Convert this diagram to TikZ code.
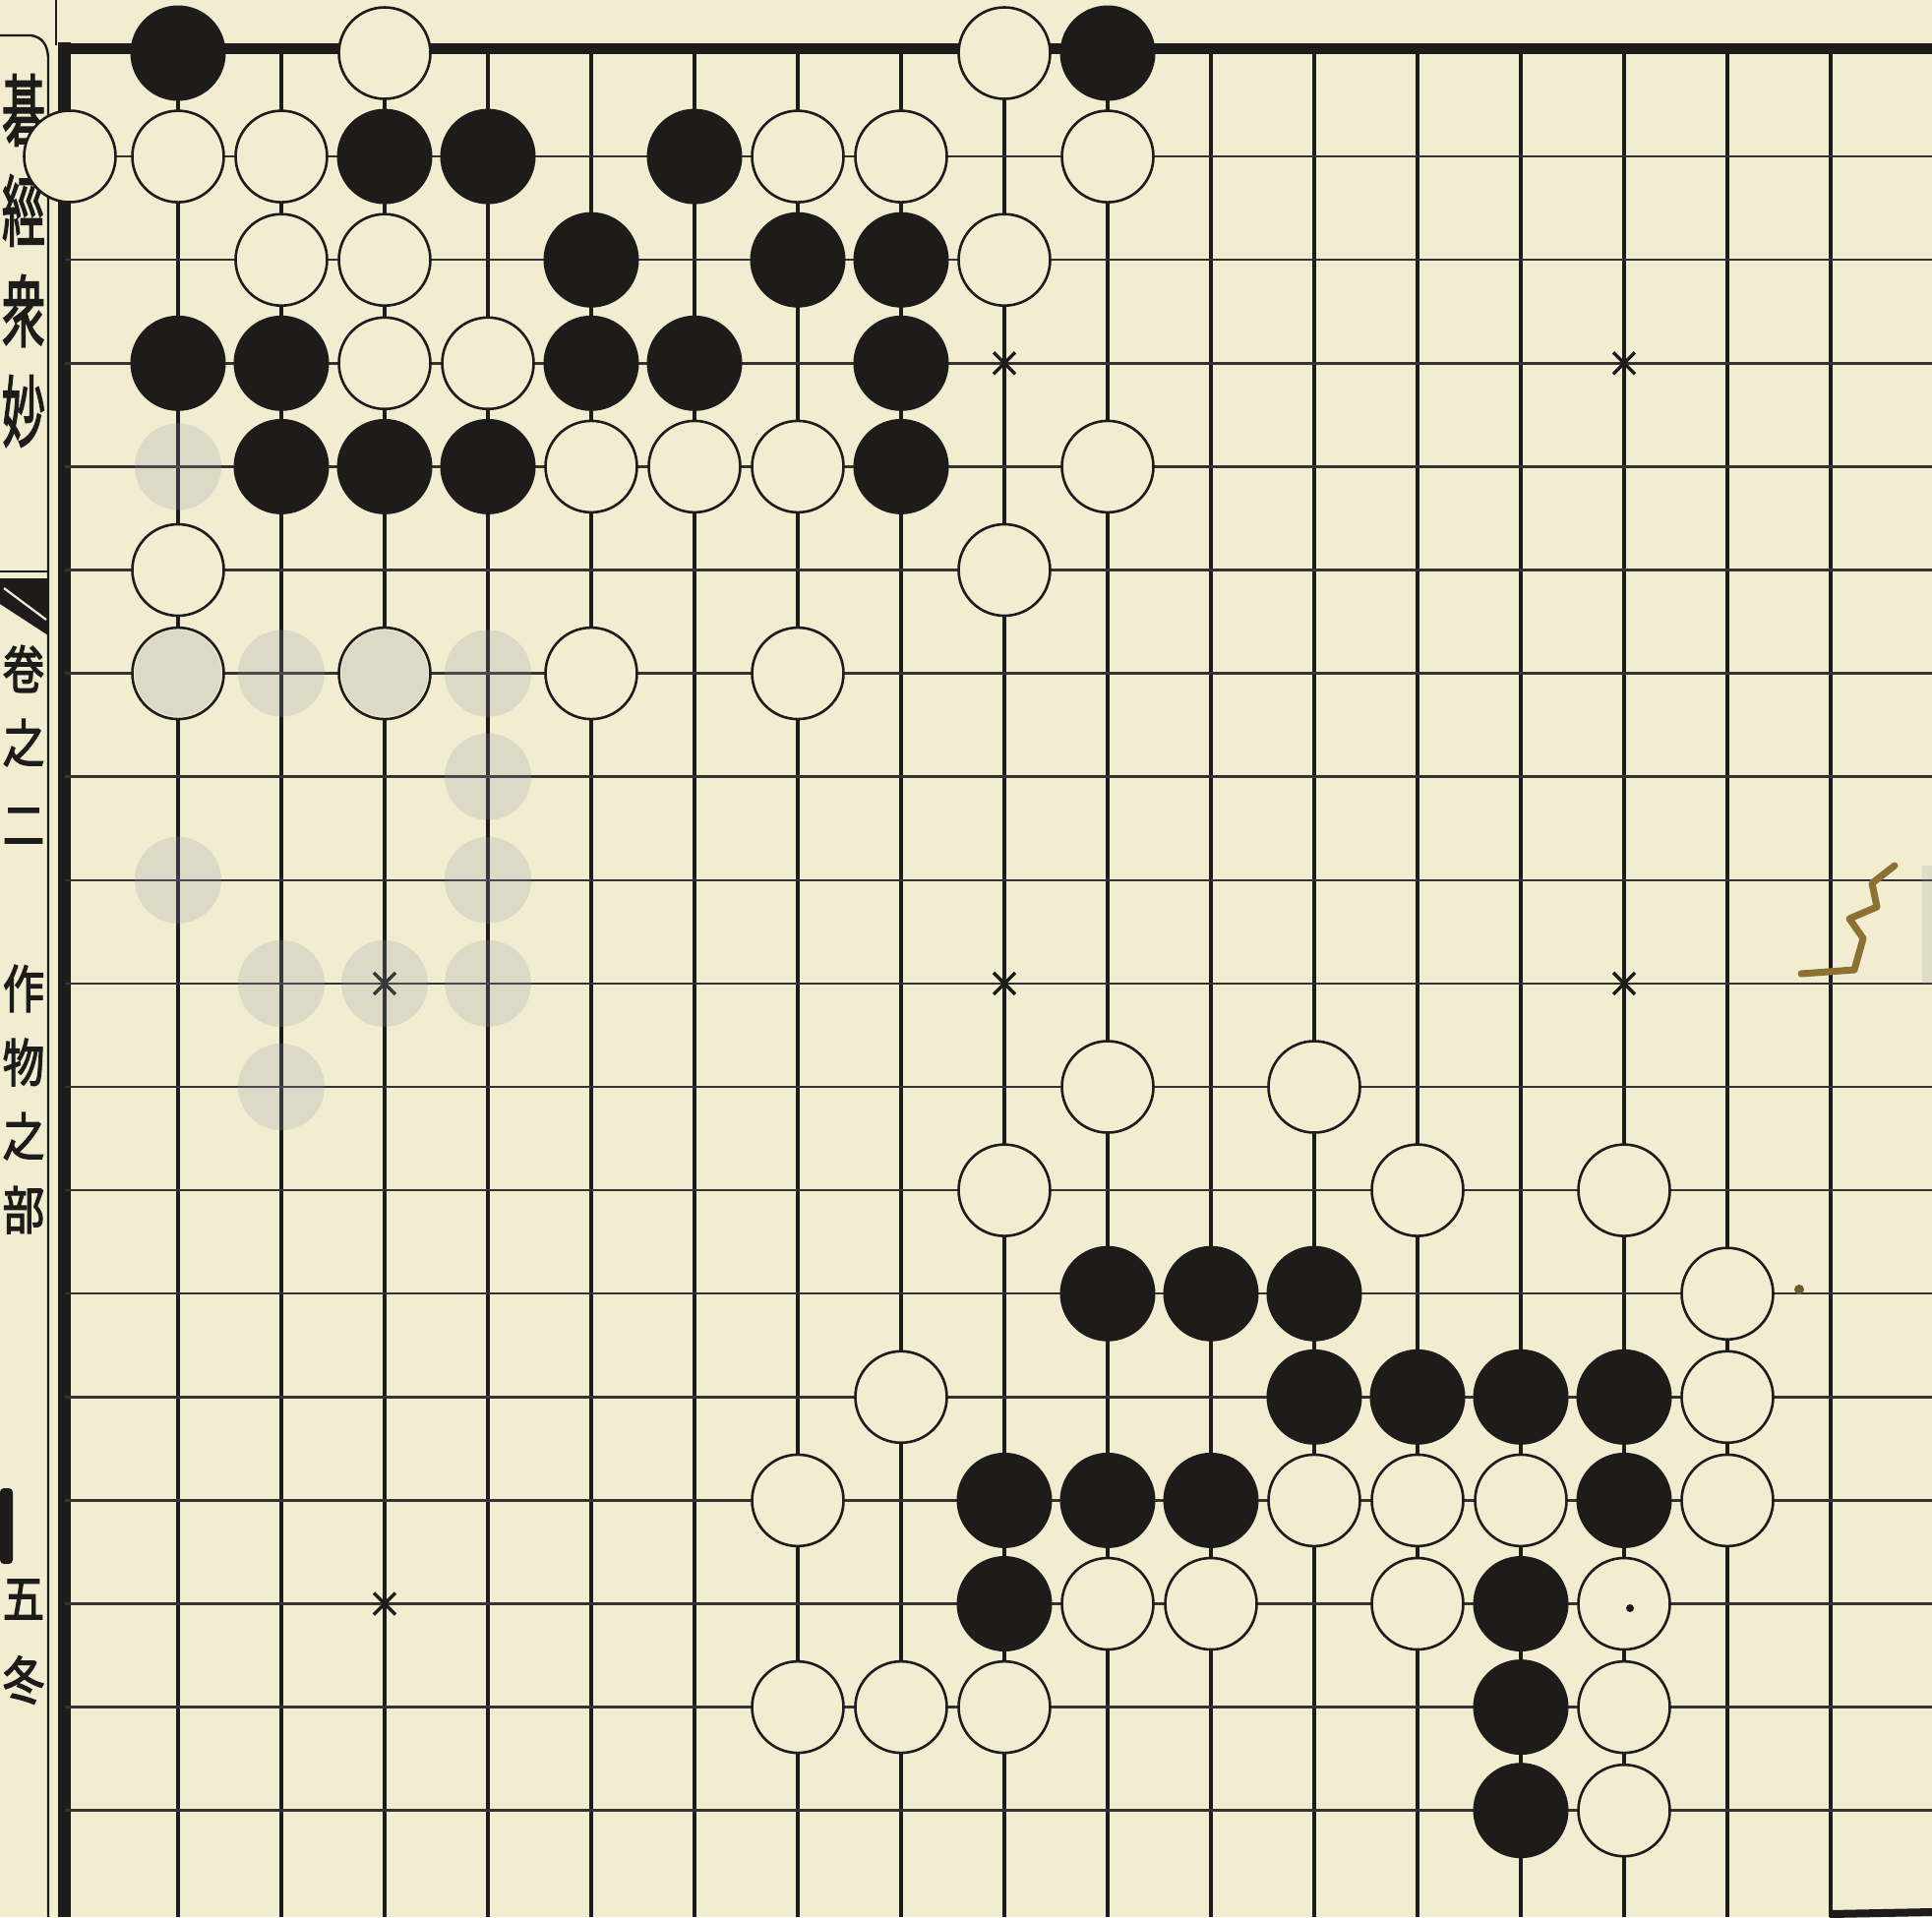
\documentclass[tikz,border=0pt]{standalone}
\usepackage{fontspec}
\newfontfamily\cjk{Noto Sans CJK JP}[FakeBold=2.5]
\definecolor{paper}{HTML}{F2EDD0}
\definecolor{ink}{HTML}{1D1C1A}
\definecolor{ghost}{HTML}{8E98A4}
\definecolor{stain}{HTML}{8C7034}
\begin{document}
\begin{tikzpicture}[x=1pt,y=-1pt,
  vline/.style={draw=ink,line width=3.6pt},
  hline/.style={draw=ink!90,line width=2.5pt},
  thinrule/.style={draw=ink,line width=2.4pt},
  bstone/.style={circle,fill=ink,minimum size=97pt,inner sep=0pt},
  wstone/.style={circle,draw=ink,fill=paper,line width=2.6pt,minimum size=93pt,inner sep=0pt},
  ghoststone/.style={circle,fill=ghost,opacity=0.22,minimum size=88pt,inner sep=0pt},
  starmark/.style={draw=ink,line width=3.4pt},
  titlechar/.style={font=\cjk\fontsize{44}{44}\selectfont,text=ink,inner sep=0pt,anchor=center,yscale=1.8},
  sidechar/.style={font=\cjk\fontsize{50}{50}\selectfont,text=ink,inner sep=0pt,anchor=center,xscale=0.85,yscale=1.05},
]
\useasboundingbox (0,0) rectangle (1964,1949);
\clip (0,0) rectangle (1964,1949);
\fill[paper] (0,0) rectangle (1964,1949);

% --- margin text column ---
\node[titlechar] (t1) at (24,112) {碁};
\node[titlechar] (t2) at (24,214) {經};
\node[titlechar] (t3) at (24,316) {衆};
\node[titlechar] (t4) at (24,418) {妙};
\node[sidechar] (s1) at (24,680) {卷};
\node[sidechar] (s2) at (24,755) {之};
\node[sidechar] (s3) at (24,840) {二};
\node[sidechar] (s4) at (24,1005) {作};
\node[sidechar] (s5) at (24,1080) {物};
\node[sidechar] (s6) at (24,1155) {之};
\node[sidechar] (s7) at (24,1230) {部};
\node[sidechar] (s8) at (24,1626) {五};
\node[sidechar] (s9) at (24,1708) {冬};
\fill[ink,rounded corners=4pt] (0,1513) rectangle (13,1590);

% box border and fish tail
\draw[thinrule] (0,36) -- (32,36) .. controls (42,38) and (48,44) .. (49,58) -- (49,1949);
\draw[thinrule] (0,581) -- (49,581);
\fill[ink] (0,588) -- (49,588) -- (49,646) -- (0,614) -- cycle;
\draw[paper,line width=2.2pt] (4,598) -- (47,630);

% --- board frame ---
\draw[thinrule] (57,0) -- (57,46);
\draw[draw=ink,line width=13pt] (65,43) -- (65,1949);
\draw[draw=ink,line width=11pt] (59,49) -- (1964,49);
\draw[draw=ink,line width=8pt] (1860,1946) -- (1964,1944);

% --- grid ---
\foreach \c in {1,...,17}
  \draw[vline] ({76+105*\c},49) -- ({76+105*\c},1949);
\foreach \r in {1,...,17}
  \draw[hline] (66,{54+105.1*\r}) -- (1964,{54+105.1*\r});

% --- star points ---
\foreach \c/\r in {9/3,15/3,3/9,9/9,15/9,3/15}{
  \draw[starmark] ({76+105*\c-11},{54+105.1*\r-11}) -- ({76+105*\c+11},{54+105.1*\r+11});
  \draw[starmark] ({76+105*\c-11},{54+105.1*\r+11}) -- ({76+105*\c+11},{54+105.1*\r-11});
  \draw[starmark] ({76+105*\c},{54+105.1*\r-13}) -- ({76+105*\c},{54+105.1*\r+13});
}

% --- black stones ---
\foreach \c/\r in {1/0,10/0,3/1,4/1,6/1,5/2,7/2,8/2,1/3,2/3,5/3,6/3,8/3,
                   2/4,3/4,4/4,8/4,10/12,11/12,12/12,12/13,13/13,14/13,15/13,
                   9/14,10/14,11/14,15/14,9/15,14/15,14/16,14/17}
  \node[bstone] (b-\c-\r) at ({76+105*\c},{54+105.1*\r}) {};

% --- white stones ---
\node[wstone] (w-0-1) at (71,159) {};
\foreach \c/\r in {3/0,9/0,1/1,2/1,7/1,8/1,10/1,2/2,3/2,9/2,3/3,4/3,
                   5/4,6/4,7/4,10/4,1/5,9/5,1/6,3/6,5/6,7/6,
                   10/10,12/10,9/11,13/11,15/11,16/12,8/13,16/13,
                   7/14,12/14,13/14,14/14,16/14,10/15,11/15,13/15,15/15,
                   7/16,8/16,9/16,15/16,15/17}
  \node[wstone] (w-\c-\r) at ({76+105*\c},{54+105.1*\r}) {};

% --- faint show-through from the reverse page ---
\foreach \c/\r in {1/6,2/6,3/6,4/6,4/7,1/8,4/8,2/9,3/9,4/9,2/10,1/4}
  \node[ghoststone] (g-\c-\r) at ({76+105*\c},{54+105.1*\r}) {};

% --- stains and specks ---
\draw[stain,line width=7pt,line cap=round,line join=round]
  (1831,990) -- (1885,986) -- (1894,954) -- (1880,934) -- (1908,922) -- (1903,898) -- (1926,880);
\fill[stain!80!black] (1829,1311) circle (5);
\fill[ink] (1657,1635) circle (4);
\fill[ghost,opacity=0.2] (1954,880) rectangle (1964,1000);
\end{tikzpicture}
\end{document}
